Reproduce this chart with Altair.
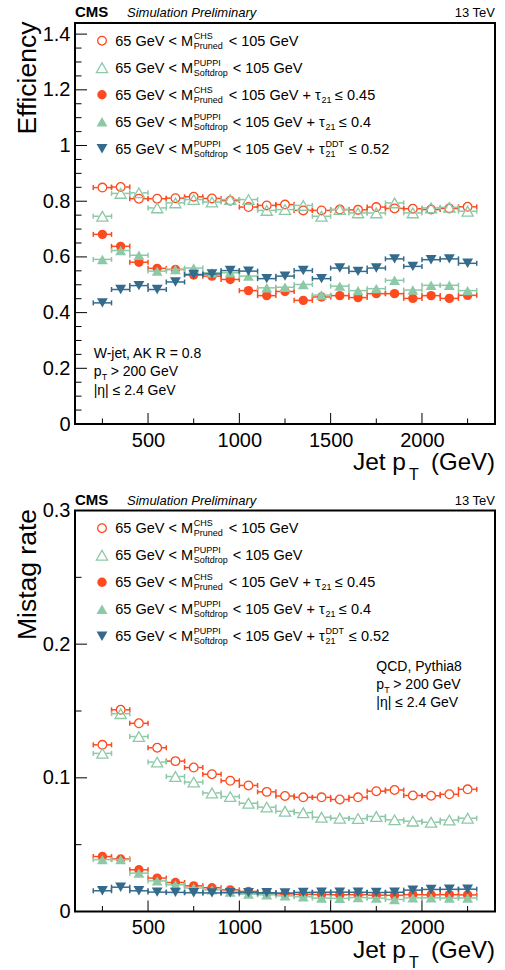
import altair as alt
import pandas as pd

# ---------------- data ----------------
pt_centers = [250, 350, 450, 550, 650, 750, 850, 950, 1050, 1150, 1250,
              1350, 1450, 1550, 1650, 1750, 1850, 1950, 2050, 2150, 2250]
bin_low = [200, 300, 400, 500, 600, 700, 800, 900, 1000, 1100, 1200,
           1300, 1400, 1500, 1600, 1700, 1800, 1900, 2000, 2100, 2200]
bin_high = [300, 400, 500, 600, 700, 800, 900, 1000, 1100, 1200, 1300,
            1400, 1500, 1600, 1700, 1800, 1900, 2000, 2100, 2200, 2300]

# signal efficiency (W-jets)
eff_pruned = [0.849, 0.851, 0.809, 0.809, 0.811, 0.816, 0.810, 0.802, 0.779, 0.785, 0.788,
              0.767, 0.767, 0.770, 0.769, 0.779, 0.774, 0.773, 0.770, 0.774, 0.780]
eff_softdrop = [0.746, 0.828, 0.830, 0.776, 0.794, 0.806, 0.797, 0.806, 0.806, 0.767, 0.770,
                0.785, 0.746, 0.770, 0.758, 0.758, 0.794, 0.758, 0.776, 0.778, 0.764]
eff_pruned_tau = [0.681, 0.638, 0.581, 0.559, 0.555, 0.535, 0.531, 0.519, 0.479, 0.461, 0.476,
                  0.444, 0.456, 0.461, 0.454, 0.468, 0.468, 0.451, 0.461, 0.451, 0.462]
eff_softdrop_tau = [0.591, 0.623, 0.606, 0.549, 0.555, 0.560, 0.543, 0.543, 0.531, 0.489, 0.491,
                    0.501, 0.463, 0.495, 0.479, 0.486, 0.516, 0.481, 0.498, 0.498, 0.479]
eff_softdrop_ddt = [0.435, 0.483, 0.497, 0.483, 0.510, 0.537, 0.539, 0.551, 0.549, 0.522, 0.531,
                    0.551, 0.522, 0.560, 0.548, 0.560, 0.593, 0.566, 0.590, 0.593, 0.577]

# background mistag rate (QCD)
mis_pruned = [0.1247, 0.1509, 0.1408, 0.1225, 0.1125, 0.1077, 0.1027, 0.0978, 0.0943, 0.0895, 0.0864,
              0.0854, 0.0854, 0.0838, 0.0854, 0.0900, 0.0909, 0.0868, 0.0866, 0.0877, 0.0914]
mis_softdrop = [0.1183, 0.1480, 0.1309, 0.1118, 0.1010, 0.0968, 0.0887, 0.0860, 0.0810, 0.0781, 0.0750,
                0.0739, 0.0705, 0.0698, 0.0695, 0.0711, 0.0686, 0.0676, 0.0668, 0.0684, 0.0698]
mis_pruned_tau = [0.0411, 0.0393, 0.0312, 0.0250, 0.0217, 0.0192, 0.0178, 0.0162, 0.0150, 0.0137, 0.0132,
                  0.0128, 0.0127, 0.0125, 0.0126, 0.0122, 0.0121, 0.0126, 0.0125, 0.0126, 0.0124]
mis_softdrop_tau = [0.0388, 0.0388, 0.0287, 0.0229, 0.0200, 0.0176, 0.0162, 0.0146, 0.0130, 0.0125, 0.0117,
                    0.0110, 0.0100, 0.0098, 0.0104, 0.0100, 0.0090, 0.0102, 0.0102, 0.0100, 0.0101]
mis_softdrop_ddt = [0.0155, 0.0182, 0.0155, 0.0145, 0.0143, 0.0140, 0.0139, 0.0140, 0.0141, 0.0140, 0.0138,
                    0.0143, 0.0144, 0.0145, 0.0144, 0.0142, 0.0144, 0.0160, 0.0165, 0.0166, 0.0167]

# axis ticks
x_ticks_major = [500, 1000, 1500, 2000]
x_ticks_minor = [250, 750, 1250, 1750, 2250]
eff_ticks_major = [0, 0.2, 0.4, 0.6, 0.8, 1.0, 1.2, 1.4]
eff_ticks_minor = [0.05, 0.1, 0.15, 0.25, 0.3, 0.35, 0.45, 0.5, 0.55, 0.65, 0.7, 0.75,
                   0.85, 0.9, 0.95, 1.05, 1.1, 1.15, 1.25, 1.3, 1.35]
mis_ticks_major = [0, 0.1, 0.2, 0.3]
mis_ticks_minor = [0.05, 0.15, 0.25]

# legend texts
leg_main = ["65 GeV < M"] * 5
leg_sup = ["CHS", "PUPPI", "CHS", "PUPPI", "PUPPI"]
leg_sub = ["Pruned", "Softdrop", "Pruned", "Softdrop", "Softdrop"]
leg_mid = ["< 105 GeV", "< 105 GeV", "< 105 GeV + τ", "< 105 GeV + τ", "< 105 GeV + τ"]
leg_tau_sup = ["", "", "", "", "DDT"]
leg_tau_sub = ["", "", "21", "21", "21"]
leg_cut = ["", "", "≤ 0.45", "≤ 0.4", "≤ 0.52"]

# ---------------- style ----------------
FONT = "Liberation Sans"
ORANGE = "#fd4a1e"
GREEN = "#8dc8a7"
BLUE = "#346a8b"
W, H = 420, 401

styles = [
    dict(color=ORANGE, shape="circle", filled=False, size=75, gap=26),
    dict(color=GREEN, shape="triangle-up", filled=False, size=125, gap=20),
    dict(color=ORANGE, shape="circle", filled=True, size=88, gap=0),
    dict(color=GREEN, shape="triangle-up", filled=True, size=118, gap=0),
    dict(color=BLUE, shape="triangle-down", filled=True, size=118, gap=0),
]


def text_layer(rows, size, style="normal", weight="normal", align="left", angle=0):
    df = pd.DataFrame(rows, columns=["px", "py", "txt"])
    return alt.Chart(df).mark_text(
        align=align, baseline="alphabetic", font=FONT, fontSize=size,
        fontStyle=style, fontWeight=weight, color="black", angle=angle
    ).encode(
        x=alt.X("px:Q", scale=None),
        y=alt.Y("py:Q", scale=None),
        text="txt:N",
    )


def point_mark(st):
    return dict(shape=st["shape"], filled=st["filled"], size=st["size"],
                color=st["color"], strokeWidth=1.3, opacity=1)


def panel(series, ymax, ymajor, yminor, ytitle, info_first, info_x, info_y, anchor):
    xs = alt.Scale(domain=[100, 2400], nice=False, zero=False)
    ys = alt.Scale(domain=[0, ymax], nice=False, zero=False)
    xaxis = alt.Axis(values=x_ticks_major, format="d", labelFont=FONT, labelFontSize=20,
                     labelColor="black", labelPadding=6, ticks=False, domain=False,
                     grid=False, title=None)
    yaxis = alt.Axis(values=ymajor, format=".1~f", labelFont=FONT, labelFontSize=20,
                     labelColor="black", labelPadding=5, ticks=False, domain=False,
                     grid=False, title=None)

    def X(f):
        return alt.X(f, scale=xs, axis=xaxis)

    def Y(f):
        return alt.Y(f, scale=ys, axis=yaxis)

    layers = []
    for vals, st in zip(series, styles):
        df = pd.DataFrame({"pt": pt_centers, "lo": bin_low, "hi": bin_high, "v": vals})
        base = alt.Chart(df).transform_calculate(
            a=f"datum.pt - {st['gap']}", b=f"datum.pt + {st['gap']}")
        left = base.mark_rule(color=st["color"], strokeWidth=1.5).encode(
            x=X("lo:Q"), x2="a:Q", y=Y("v:Q"))
        right = base.mark_rule(color=st["color"], strokeWidth=1.5).encode(
            x=X("b:Q"), x2="hi:Q", y=Y("v:Q"))
        capl = base.mark_rule(color=st["color"], strokeWidth=1.5, yOffset=-2.5, y2Offset=2.5).encode(
            x=X("lo:Q"), y=Y("v:Q"), y2="v:Q")
        capr = base.mark_rule(color=st["color"], strokeWidth=1.5, yOffset=-2.5, y2Offset=2.5).encode(
            x=X("hi:Q"), y=Y("v:Q"), y2="v:Q")
        pts = base.mark_point(**point_mark(st)).encode(x=X("pt:Q"), y=Y("v:Q"))
        layers += [left, right, capl, capr, pts]

    # inward ticks
    layers.append(alt.Chart(pd.DataFrame({"t": ymajor})).mark_rule(color="black", strokeWidth=1).encode(
        y=Y("t:Q"), x=alt.value(0), x2=alt.value(12)))
    layers.append(alt.Chart(pd.DataFrame({"t": yminor})).mark_rule(color="black", strokeWidth=1).encode(
        y=Y("t:Q"), x=alt.value(0), x2=alt.value(6.5)))
    layers.append(alt.Chart(pd.DataFrame({"t": x_ticks_major})).mark_rule(color="black", strokeWidth=1).encode(
        x=X("t:Q"), y=alt.value(H), y2=alt.value(H - 11)))
    layers.append(alt.Chart(pd.DataFrame({"t": x_ticks_minor})).mark_rule(color="black", strokeWidth=1).encode(
        x=X("t:Q"), y=alt.value(H), y2=alt.value(H - 5.5)))

    # legend
    leg_y = [17.7, 44.7, 71.7, 98.7, 125.7]
    for st, ly in zip(styles, leg_y):
        layers.append(alt.Chart(pd.DataFrame({"px": [27], "py": [ly]})).mark_point(**point_mark(st)).encode(
            x=alt.X("px:Q", scale=None), y=alt.Y("py:Q", scale=None)))
    main_rows, small_rows = [], []
    for i, ly in enumerate(leg_y):
        softdrop = leg_sub[i] == "Softdrop"
        main_rows.append((40.3, ly + 5.2, leg_main[i]))
        small_rows.append((118.7, ly - 1.8, leg_sup[i]))
        small_rows.append((118.7, ly + 8.2, leg_sub[i]))
        main_rows.append((157.7 if softdrop else 153.7, ly + 5.2, leg_mid[i]))
        tx = 250.5 if softdrop else 246.5
        if leg_tau_sup[i]:
            small_rows.append((tx, ly - 1.8, leg_tau_sup[i]))
        if leg_tau_sub[i]:
            small_rows.append((tx, ly + 8.2, leg_tau_sub[i]))
        if leg_cut[i]:
            cx = (274 if leg_tau_sup[i] else 264) if softdrop else 260
            main_rows.append((cx, ly + 5.2, leg_cut[i]))
    layers.append(text_layer(main_rows, 14.5))
    layers.append(text_layer(small_rows, 9))

    # info text
    layers.append(text_layer([(info_x, info_y, info_first),
                              (info_x, info_y + 17.8, "p"),
                              (info_x + 17, info_y + 17.8, "> 200 GeV"),
                              (info_x, info_y + 36.3, "|η| ≤ 2.4 GeV")], 14))
    layers.append(text_layer([(info_x + 8, info_y + 21.8, "T")], 9))

    # header
    layers.append(text_layer([(0, -6, "CMS")], 15, weight="bold"))
    layers.append(text_layer([(52, -6, "Simulation Preliminary")], 13, style="italic"))
    layers.append(text_layer([(W, -6, "13 TeV")], 13, align="right"))

    # axis titles
    layers.append(text_layer([(331, H + 46, "Jet p")], 24.5, align="right"))
    layers.append(text_layer([(W, H + 46, "(GeV)")], 24, align="right"))
    layers.append(text_layer([(334, H + 56, "T")], 16))
    layers.append(text_layer([(-39, -1.5, ytitle)], 26.5, align="right", angle=270))

    if anchor:
        layers.append(alt.Chart(pd.DataFrame({"px": [-73], "py": [-21.5]})).mark_point(
            shape="square", size=1, opacity=0, filled=True).encode(
            x=alt.X("px:Q", scale=None), y=alt.Y("py:Q", scale=None)))

    return alt.layer(*layers).properties(width=W, height=H)


top = panel([eff_pruned, eff_softdrop, eff_pruned_tau, eff_softdrop_tau, eff_softdrop_ddt],
            1.44, eff_ticks_major, eff_ticks_minor, "Efficiency",
            "W-jet, AK R = 0.8", 18.7, 335.2, True)
bottom = panel([mis_pruned, mis_softdrop, mis_pruned_tau, mis_softdrop_tau, mis_softdrop_ddt],
               0.3, mis_ticks_major, mis_ticks_minor, "Mistag rate",
               "QCD, Pythia8", 301.3, 160.5, False)

chart = alt.vconcat(top, bottom, spacing=86.5, bounds="flush", padding=0,
                    background="white").configure_view(stroke="black", strokeWidth=2)

chart.save("out.html", embed_options={"renderer": "svg", "actions": False})
